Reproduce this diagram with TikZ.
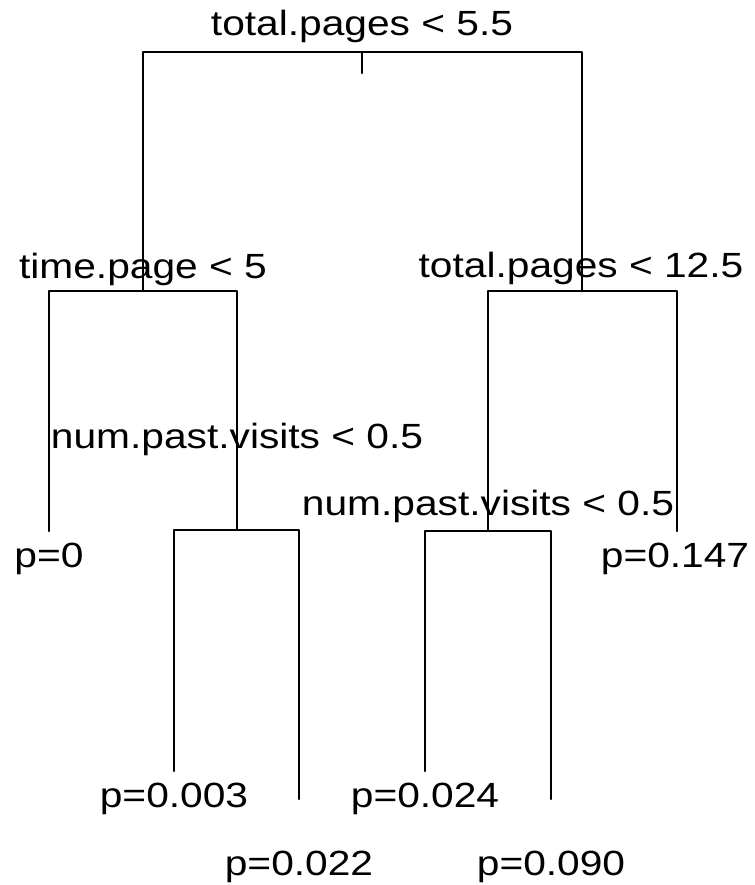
\documentclass[tikz,border=0pt]{standalone}
\usepackage{fontspec}
\setmainfont{Liberation Sans}[FakeStretch=1.163]
\begin{document}
\begin{tikzpicture}[x=1pt,y=-1pt,
  edge/.style={line width=2.4pt,line cap=round,line join=round,black},
  lbl/.style={anchor=base,inner sep=0pt,font=\fontsize{35}{40}\selectfont}]
\useasboundingbox (0,0) rectangle (754,885);
% tree node positions
\coordinate (root) at (362,52);
\coordinate (roottick) at (362,73);
\coordinate (tpage) at (143,291);
\coordinate (tpages) at (582,291);
\coordinate (npvA) at (237,530);
\coordinate (npvB) at (488,531);
\coordinate (p0) at (49,531);
\coordinate (p147) at (677,531);
\coordinate (p003) at (174,771);
\coordinate (p022) at (299,799);
\coordinate (p024) at (425,771);
\coordinate (p090) at (551,799);
% connectors
\draw[edge] (tpage) |- (root) -| (tpages);
\draw[edge] (root) -- (roottick);
\draw[edge] (p0) |- (tpage) -| (npvA);
\draw[edge] (npvB) |- (tpages) -| (p147);
\draw[edge] (p003) |- (npvA) -| (p022);
\draw[edge] (p024) |- (npvB) -| (p090);
% labels
\node[lbl] (lroot) at (362,36) {total.pages < 5.5};
\node[lbl] (ltpage) at (143,278) {time.page < 5};
\node[lbl] (ltpages) at (581,277) {total.pages < 12.5};
\node[lbl] (lnpvA) at (237,448) {num.past.visits < 0.5};
\node[lbl] (lnpvB) at (488,515) {num.past.visits < 0.5};
\node[lbl] (lp0) at (49,567) {p=0};
\node[lbl] (lp147) at (675,567) {p=0.147};
\node[lbl] (lp003) at (174,807) {p=0.003};
\node[lbl] (lp022) at (299,875) {p=0.022};
\node[lbl] (lp024) at (425,807) {p=0.024};
\node[lbl] (lp090) at (551,875) {p=0.090};
\end{tikzpicture}
\end{document}
